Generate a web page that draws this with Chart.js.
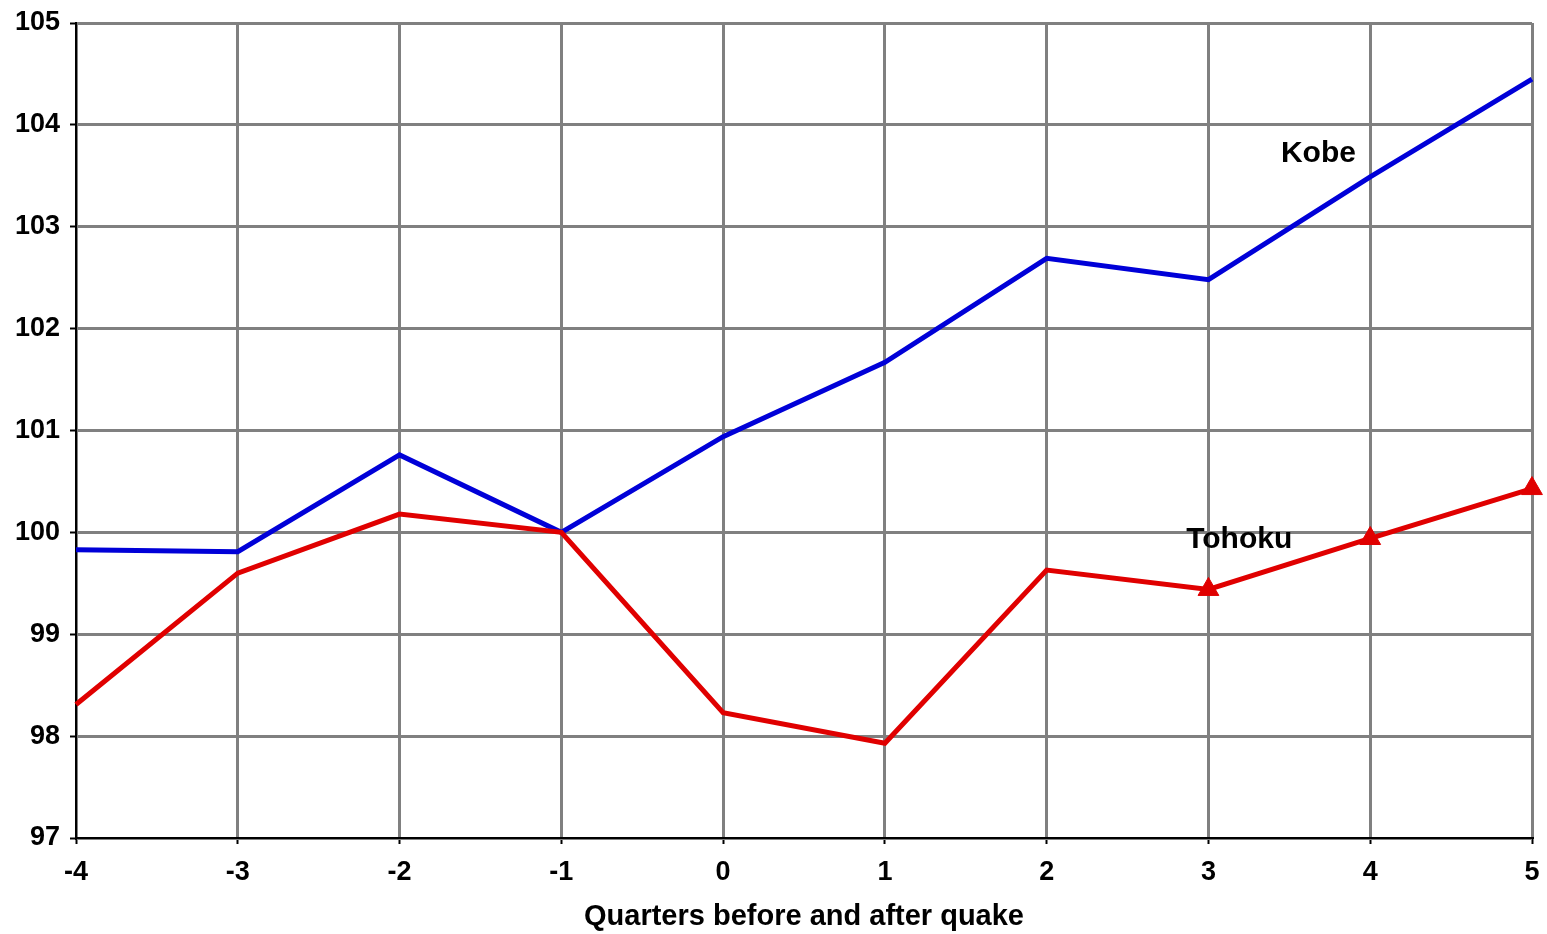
<!DOCTYPE html>
<html>
<head>
<meta charset="utf-8">
<script src="https://cdn.jsdelivr.net/npm/chart.js@4/dist/chart.umd.min.js"></script>
<style>
  html, body { margin: 0; padding: 0; background: #ffffff; }
  #wrap { width: 1547px; height: 934px; position: relative; }
</style>
</head>
<body>
<div id="wrap"><canvas id="c" width="1547" height="934"></canvas></div>
<script>
// Quarters relative to the earthquake
const quarters = [-4, -3, -2, -1, 0, 1, 2, 3, 4, 5];
// Index, quarter before quake = 100
const kobe   = [99.83, 99.81, 100.76, 100.0, 100.94, 101.67, 102.69, 102.48, 103.49, 104.45];
const tohoku = [98.31, 99.60, 100.18, 100.0, 98.23, 97.93, 99.63, 99.44, 99.94, 100.43];
// Tohoku points that carry a marker
const tohokuMarked = [false, false, false, false, false, false, false, true, true, true];
const yTicks = [97, 98, 99, 100, 101, 102, 103, 104, 105];
const xTitle = 'Quarters before and after quake';
// Series names written next to their lines (x in quarters, y in index units)
const seriesLabels = [
  { text: 'Kobe',   x: 3.68, y: 103.72 },
  { text: 'Tohoku', x: 3.19, y: 99.93 }
];

const FONT = '"Liberation Sans", Arial, sans-serif';

const labelPlugin = {
  id: 'seriesLabels',
  afterDatasetsDraw(chart) {
    const { ctx, scales } = chart;
    ctx.save();
    ctx.font = 'bold 30px ' + FONT;
    ctx.fillStyle = '#000000';
    ctx.textAlign = 'center';
    ctx.textBaseline = 'middle';
    seriesLabels.forEach(l => {
      ctx.fillText(l.text, scales.x.getPixelForValue(l.x), scales.y.getPixelForValue(l.y));
    });
    ctx.restore();
  }
};

new Chart(document.getElementById('c'), {
  type: 'line',
  data: {
    datasets: [
      {
        label: 'Tohoku',
        data: quarters.map((q, i) => ({ x: q, y: tohoku[i] })),
        borderColor: '#e00000',
        backgroundColor: '#e00000',
        borderWidth: 5,
        pointStyle: 'triangle',
        pointRadius: tohokuMarked.map(m => m ? 12 : 0),
        pointBorderWidth: 1,
        tension: 0,
        clip: false
      },
      {
        label: 'Kobe',
        data: quarters.map((q, i) => ({ x: q, y: kobe[i] })),
        borderColor: '#0000d8',
        backgroundColor: '#0000d8',
        borderWidth: 5,
        pointRadius: 0,
        tension: 0,
        clip: false
      }
    ]
  },
  options: {
    responsive: false,
    animation: false,
    layout: { padding: { left: 0, right: 15, top: 23, bottom: 0 } },
    plugins: {
      legend: { display: false },
      tooltip: { enabled: false }
    },
    scales: {
      x: {
        type: 'linear',
        min: -4,
        max: 5,
        afterBuildTicks(scale) { scale.ticks = quarters.map(v => ({ value: v })); },
        afterFit(scale) {
          scale.height = 96;
          scale.paddingLeft = 0;
          scale.paddingRight = 0;
        },
        grid: {
          color: '#808080',
          lineWidth: 3,
          tickColor: '#000000',
          tickWidth: 2,
          tickLength: 6
        },
        border: { color: '#000000', width: 2 },
        ticks: {
          color: '#000000',
          font: { family: FONT, size: 27, weight: 'bold' },
          padding: 12,
          maxRotation: 0
        },
        title: {
          display: true,
          text: xTitle,
          color: '#000000',
          font: { family: FONT, size: 29, weight: 'bold' },
          padding: { top: 6, bottom: 0 }
        }
      },
      y: {
        min: 97,
        max: 105,
        afterBuildTicks(scale) { scale.ticks = yTicks.map(v => ({ value: v })); },
        afterFit(scale) {
          scale.width = 76;
          scale.paddingTop = 0;
          scale.paddingBottom = 0;
        },
        grid: {
          color: '#808080',
          lineWidth: 3,
          tickColor: '#000000',
          tickWidth: 2,
          tickLength: 6
        },
        border: { color: '#000000', width: 2 },
        ticks: {
          color: '#000000',
          font: { family: FONT, size: 27, weight: 'bold' },
          padding: 10
        }
      }
    }
  },
  plugins: [labelPlugin]
});
</script>
</body>
</html>
